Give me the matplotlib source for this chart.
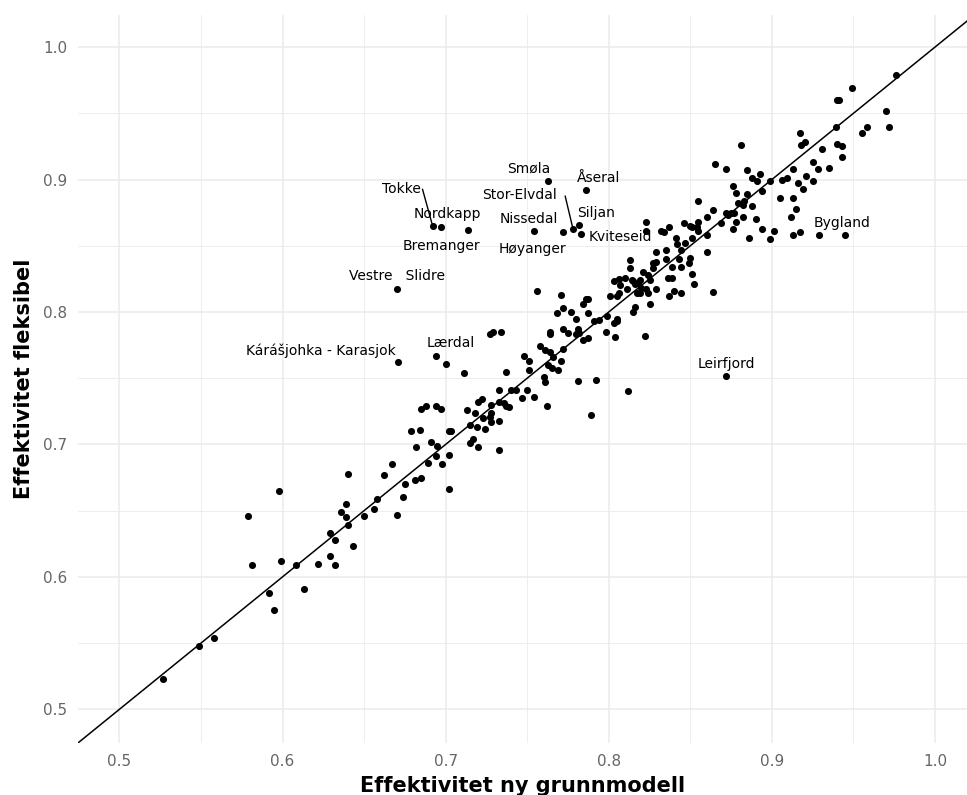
import matplotlib
matplotlib.use("Agg")
import matplotlib.pyplot as plt
from matplotlib.ticker import MultipleLocator

# ---- data: efficiency new base model (x) vs flexible model (y) ----
eff_grunn = [
    0.640, 0.598, 0.579, 0.639, 0.636, 0.639, 0.650, 0.656, 0.658, 0.640,
    0.629, 0.632, 0.643, 0.581, 0.599, 0.608, 0.622, 0.629, 0.632, 0.592,
    0.613, 0.595, 0.558, 0.549, 0.527,
    0.670, 0.756, 0.727, 0.729, 0.734, 0.764, 0.764, 0.768, 0.694, 0.671,
    0.700, 0.711, 0.737, 0.748, 0.751, 0.751, 0.758, 0.761, 0.764, 0.766,
    0.763, 0.765, 0.769, 0.760, 0.761, 0.789, 0.733, 0.740, 0.743, 0.750,
    0.747, 0.754, 0.762, 0.720, 0.722, 0.728, 0.733, 0.736, 0.737, 0.739,
    0.713, 0.718, 0.728, 0.727, 0.723, 0.728, 0.733, 0.715, 0.719, 0.724,
    0.685, 0.688, 0.694, 0.697, 0.679, 0.684, 0.702, 0.703, 0.691, 0.695,
    0.682, 0.694, 0.702, 0.698, 0.689, 0.715, 0.717, 0.720, 0.733, 0.667,
    0.662, 0.675, 0.681, 0.685, 0.674, 0.670, 0.702,
    0.763, 0.692, 0.697, 0.714, 0.754, 0.772, 0.778, 0.782, 0.783, 0.786,
    0.881, 0.865, 0.872, 0.885, 0.888, 0.891, 0.876, 0.878, 0.885,
    0.855, 0.879, 0.882, 0.883, 0.888, 0.890, 0.886, 0.882, 0.878, 0.876,
    0.872, 0.873, 0.875, 0.877, 0.869, 0.864, 0.860, 0.855, 0.851, 0.850,
    0.854, 0.855, 0.860, 0.851, 0.846, 0.837, 0.832, 0.834, 0.841, 0.823,
    0.823, 0.842, 0.847, 0.844, 0.860, 0.850, 0.849, 0.843, 0.844, 0.835,
    0.835, 0.829, 0.827, 0.829, 0.813, 0.813, 0.827, 0.839, 0.839, 0.836,
    0.851, 0.852, 0.864, 0.821, 0.824, 0.825, 0.819, 0.818, 0.815, 0.814,
    0.810, 0.806, 0.803, 0.807, 0.811, 0.816, 0.820, 0.817, 0.819, 0.823,
    0.824, 0.829, 0.825, 0.837, 0.840, 0.844, 0.801, 0.805, 0.806, 0.816,
    0.815, 0.799, 0.805,
    0.786, 0.787, 0.784, 0.771, 0.791, 0.794, 0.787, 0.777, 0.772, 0.780,
    0.772, 0.775, 0.780, 0.782, 0.784, 0.787, 0.781, 0.772, 0.771, 0.781,
    0.792, 0.798, 0.803, 0.805, 0.804, 0.822, 0.812, 0.872,
    0.976, 0.949, 0.940, 0.941, 0.970, 0.972, 0.958, 0.955, 0.939, 0.940,
    0.943, 0.917, 0.918, 0.920, 0.931, 0.943, 0.925, 0.935, 0.928, 0.921,
    0.925, 0.913, 0.906, 0.909, 0.899, 0.893, 0.894, 0.916, 0.919, 0.905,
    0.913, 0.915, 0.912, 0.894, 0.901, 0.899, 0.913, 0.917, 0.929, 0.945,
]
eff_fleks = [
    0.678, 0.665, 0.646, 0.655, 0.649, 0.645, 0.646, 0.651, 0.659, 0.639,
    0.633, 0.628, 0.623, 0.609, 0.612, 0.609, 0.610, 0.616, 0.609, 0.588,
    0.591, 0.575, 0.554, 0.548, 0.523,
    0.817, 0.816, 0.783, 0.785, 0.785, 0.785, 0.783, 0.799, 0.767, 0.762,
    0.761, 0.754, 0.755, 0.767, 0.763, 0.756, 0.774, 0.771, 0.770, 0.766,
    0.760, 0.758, 0.756, 0.751, 0.747, 0.722, 0.741, 0.741, 0.741, 0.741,
    0.735, 0.736, 0.729, 0.732, 0.734, 0.730, 0.732, 0.731, 0.729, 0.728,
    0.726, 0.724, 0.724, 0.721, 0.720, 0.717, 0.718, 0.715, 0.713, 0.712,
    0.727, 0.729, 0.729, 0.727, 0.710, 0.711, 0.710, 0.710, 0.702, 0.699,
    0.698, 0.691, 0.692, 0.685, 0.686, 0.701, 0.704, 0.698, 0.696, 0.685,
    0.677, 0.670, 0.673, 0.675, 0.660, 0.647, 0.666,
    0.899, 0.865, 0.864, 0.862, 0.861, 0.860, 0.863, 0.866, 0.859, 0.892,
    0.926, 0.912, 0.908, 0.907, 0.901, 0.899, 0.895, 0.890, 0.889,
    0.884, 0.882, 0.881, 0.884, 0.880, 0.870, 0.856, 0.872, 0.868, 0.863,
    0.875, 0.873, 0.875, 0.875, 0.867, 0.877, 0.872, 0.868, 0.864, 0.865,
    0.864, 0.861, 0.858, 0.856, 0.867, 0.864, 0.861, 0.860, 0.856, 0.868,
    0.861, 0.851, 0.852, 0.847, 0.845, 0.841, 0.837, 0.840, 0.834, 0.847,
    0.840, 0.845, 0.837, 0.838, 0.839, 0.833, 0.833, 0.834, 0.826, 0.826,
    0.829, 0.821, 0.815, 0.830, 0.828, 0.824, 0.824, 0.822, 0.823, 0.824,
    0.826, 0.825, 0.823, 0.820, 0.817, 0.821, 0.818, 0.814, 0.814, 0.817,
    0.814, 0.817, 0.806, 0.812, 0.816, 0.814, 0.812, 0.812, 0.814, 0.804,
    0.800, 0.797, 0.795,
    0.810, 0.810, 0.806, 0.813, 0.793, 0.794, 0.799, 0.800, 0.803, 0.795,
    0.787, 0.784, 0.783, 0.784, 0.779, 0.780, 0.787, 0.772, 0.763, 0.748,
    0.749, 0.785, 0.792, 0.793, 0.781, 0.782, 0.740, 0.752,
    0.979, 0.969, 0.960, 0.960, 0.952, 0.940, 0.940, 0.935, 0.940, 0.927,
    0.925, 0.935, 0.926, 0.928, 0.923, 0.917, 0.913, 0.909, 0.908, 0.903,
    0.899, 0.908, 0.900, 0.901, 0.899, 0.904, 0.891, 0.897, 0.893, 0.886,
    0.886, 0.878, 0.872, 0.863, 0.861, 0.855, 0.858, 0.860, 0.858, 0.858,
]

# ---- labelled municipalities (point values) ----
label_names = ["Smøla", "Åseral", "Tokke", "Nordkapp", "Bremanger",
               "Stor-Elvdal", "Nissedal", "Siljan", "Høyanger", "Kviteseid",
               "Vestre   Slidre", "Kárášjohka - Karasjok", "Lærdal",
               "Leirfjord", "Bygland"]
label_x = [0.763, 0.786, 0.692, 0.697, 0.714, 0.778, 0.754, 0.782, 0.772,
           0.783, 0.670, 0.671, 0.694, 0.872, 0.945]
label_y = [0.899, 0.892, 0.865, 0.864, 0.862, 0.863, 0.861, 0.866, 0.860,
           0.859, 0.817, 0.762, 0.767, 0.752, 0.858]

# layout: where the repelled label text sits
label_text_x = [0.7511, 0.7940, 0.6727, 0.7009, 0.6972, 0.7453, 0.7508,
                0.7919, 0.7534, 0.8074, 0.6700, 0.6235, 0.7030, 0.8718, 0.9433]
label_text_y = [0.9083, 0.9015, 0.8932, 0.8743, 0.8501, 0.8881, 0.8700,
                0.8748, 0.8479, 0.8567, 0.8269, 0.7706, 0.7766, 0.7610, 0.8673]
# leader segments: name -> start point relative to the label box
label_segment_relpos = {"Tokke": (1.05, 0.45), "Stor-Elvdal": (1.11, 0.45)}

plt.rcParams['font.family'] = ['DejaVu Sans']

fig = plt.figure(figsize=(9.67, 7.95), dpi=100)
ax = fig.add_axes([78.3 / 967, (795 - 742.7) / 795, (967 - 78.3) / 967, 727.7 / 795])
ax.set_xlim(0.4748, 1.0196)
ax.set_ylim(0.4748, 1.0242)

for s in ax.spines.values():
    s.set_visible(False)

ax.xaxis.set_major_locator(MultipleLocator(0.1))
ax.xaxis.set_minor_locator(MultipleLocator(0.05))
ax.yaxis.set_major_locator(MultipleLocator(0.1))
ax.yaxis.set_minor_locator(MultipleLocator(0.05))
ax.grid(which='major', color='#ebebeb', lw=1.1, zorder=0)
ax.grid(which='minor', color='#ebebeb', lw=0.6, zorder=0)
ax.set_axisbelow(True)
ax.tick_params(which='both', length=0)
ax.tick_params(which='major', labelsize=11, labelcolor='#666666', pad=8)

ax.axline((0.5, 0.5), slope=1, color='black', lw=1.1, zorder=2)
ax.scatter(eff_grunn, eff_fleks, s=26, color='black', linewidths=0, zorder=3)

for name, px, py, tx, ty in zip(label_names, label_x, label_y,
                                label_text_x, label_text_y):
    if name in label_segment_relpos:
        ax.annotate(name, xy=(px, py), xytext=(tx, ty), ha='center', va='center',
                    fontsize=10, color='black', zorder=4,
                    arrowprops=dict(arrowstyle='-', color='black', lw=1.0,
                                    shrinkA=0, shrinkB=1.5, patchA=None,
                                    relpos=label_segment_relpos[name]))
    else:
        ax.text(tx, ty, name, ha='center', va='center', fontsize=10,
                color='black', zorder=4)

ax.set_xlabel("Effektivitet ny grunnmodell", fontsize=15, fontweight='bold',
              color='black')
ax.set_ylabel("Effektivitet fleksibel", fontsize=15, fontweight='bold',
              color='black')
ax.xaxis.label.set_va('baseline')
ax.yaxis.label.set_va('center')
ax.xaxis.set_label_coords(0.5, -(792 - 742.7) / 727.7)
ax.yaxis.set_label_coords(-(78.3 - 24) / 888.7, 0.5)

fig.savefig("out.png", dpi=100)
